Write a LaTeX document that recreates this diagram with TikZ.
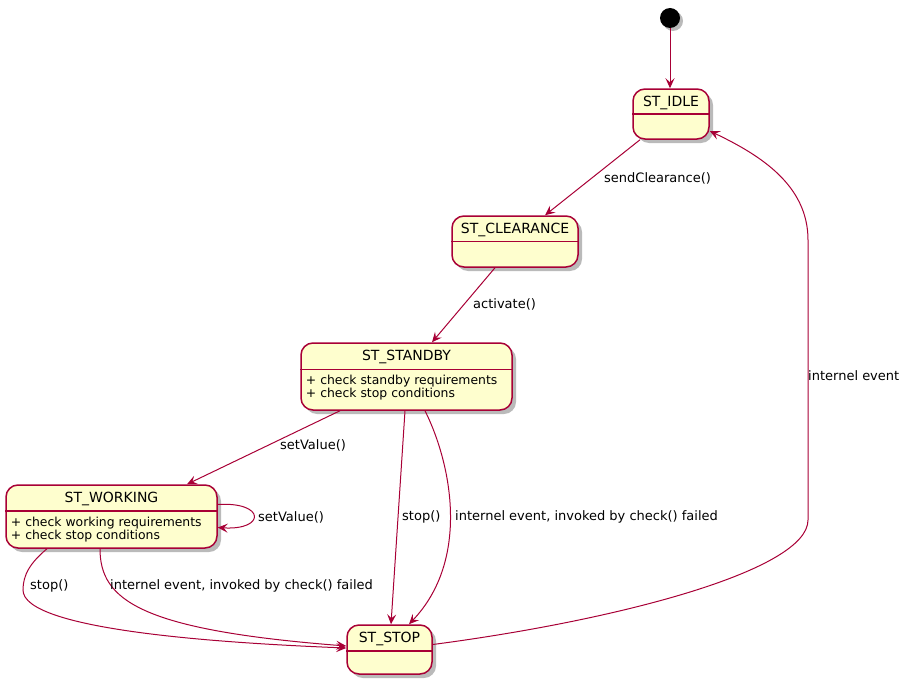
\documentclass[tikz,border=0pt]{standalone}
\usepackage{fontspec}
\setmainfont{DejaVu Sans}
\usepackage{tikz}
\usetikzlibrary{arrows.meta,shadows,positioning}
\definecolor{stFill}{HTML}{FEFECE}
\definecolor{stEdge}{HTML}{A80036}
\tikzset{
  stbox/.style={draw=stEdge, fill=stFill, line width=1.5pt, rounded corners=12pt, inner sep=0pt,
                drop shadow={shadow xshift=4pt, shadow yshift=-4pt, fill=black!45, opacity=.6}},
  sttitle/.style={font=\fontsize{14}{16}\selectfont, inner sep=0pt, anchor=base},
  stdesc/.style={font=\fontsize{12.4}{13}\selectfont, inner sep=0pt, anchor=north west, align=left},
  stsep/.style={draw=stEdge, line width=1.5pt},
  trans/.style={draw=stEdge, line width=1pt, -{Stealth[length=10pt,width=9pt,inset=4pt]}},
  tlbl/.style={font=\fontsize{13}{15}\selectfont, anchor=west, inner sep=1pt},
}
\begin{document}
\begin{tikzpicture}[x=1pt,y=-1pt]
  \useasboundingbox (0,0) rectangle (907,685);

  % states
  \node[circle, fill=black, minimum size=20pt, inner sep=0pt,
        drop shadow={shadow xshift=3pt, shadow yshift=-3pt, fill=black!45, opacity=.6}] (init) at (670,18) {};
  \node[stbox, minimum width=76pt, minimum height=50pt] (idle) at (671,114) {};
  \node[stbox, minimum width=126pt, minimum height=51pt] (clearance) at (515,241.5) {};
  \node[stbox, minimum width=211pt, minimum height=67pt] (standby) at (406.5,376.5) {};
  \node[stbox, minimum width=211pt, minimum height=63pt] (working) at (111.5,516.5) {};
  \node[stbox, minimum width=85pt, minimum height=49pt] (stop) at (389.5,649.5) {};

  \node[sttitle] (idleT) at ([yshift=-18pt]idle.north) {ST\_IDLE};
  \node[sttitle] (clearanceT) at ([yshift=-18pt]clearance.north) {ST\_CLEARANCE};
  \node[sttitle] (standbyT) at ([yshift=-18pt]standby.north) {ST\_STANDBY};
  \node[sttitle] (workingT) at ([yshift=-18pt]working.north) {ST\_WORKING};
  \node[sttitle] (stopT) at ([yshift=-18pt]stop.north) {ST\_STOP};

  \foreach \s/\d in {idle/25.7,clearance/26,standby/27,working/26.5,stop/26.5}{
    \draw[stsep] ([yshift=-\d pt]\s.north west) -- ([yshift=-\d pt]\s.north east);}

  \node[stdesc] (standbyD) at ([xshift=5.5pt,yshift=-33pt]standby.north west)
    {+ check standby requirements\\+ check stop conditions};
  \node[stdesc] (workingD) at ([xshift=5.5pt,yshift=-32.5pt]working.north west)
    {+ check working requirements\\+ check stop conditions};

  % transitions
  \draw[trans] (init.south) -- ([xshift=-1pt]idle.north);
  \draw[trans] ([xshift=-31pt]idle.south) -- ([xshift=30pt]clearance.north);
  \draw[trans] ([xshift=-20pt]clearance.south) -- ([xshift=25.5pt]standby.north);
  \draw[trans] ([xshift=-66.5pt]standby.south) -- ([xshift=75.5pt]working.north);
  \draw[trans] ([yshift=12pt]working.east) .. controls ([xshift=48pt,yshift=15pt]working.east)
    and ([xshift=48pt,yshift=-14pt]working.east) .. ([yshift=-11pt]working.east);
  \draw[trans] ([xshift=-1.5pt]standby.south) -- ([xshift=1.5pt]stop.north);
  \draw[trans] ([xshift=18.5pt]standby.south) .. controls (452,465) and (470,560) .. ([xshift=19.5pt]stop.north);
  \draw[trans] ([xshift=-64.5pt]working.south) .. controls (30,563) and (23,575) .. (23,590)
    .. controls (23,630) and (220,643) .. ([yshift=1.5pt]stop.west);
  \draw[trans] ([xshift=-11.5pt]working.south) .. controls (100,600) and (140,630) .. ([yshift=3.5pt]stop.west);
  \draw[trans] ([yshift=5pt]stop.east) .. controls (620,620) and (808,570) .. (808,520)
    -- (808,240) .. controls (808,185) and (760,155) .. ([yshift=-17pt]idle.east);

  % labels
  \node[tlbl] (lSend) at (603,178) {sendClearance()};
  \node[tlbl] (lAct) at (472,304) {activate()};
  \node[tlbl] (lSet) at (279,445) {setValue()};
  \node[tlbl] (lSelf) at (257,517) {setValue()};
  \node[tlbl] (lStop) at (401,517) {stop()};
  \node[tlbl] (lFail) at (454,517) {internel event, invoked by check() failed};
  \node[tlbl] (lStopW) at (29,586) {stop()};
  \node[tlbl] (lFailW) at (109,586) {internel event, invoked by check() failed};
  \node[tlbl] (lBack) at (807,376) {internel event};
\end{tikzpicture}
\end{document}
